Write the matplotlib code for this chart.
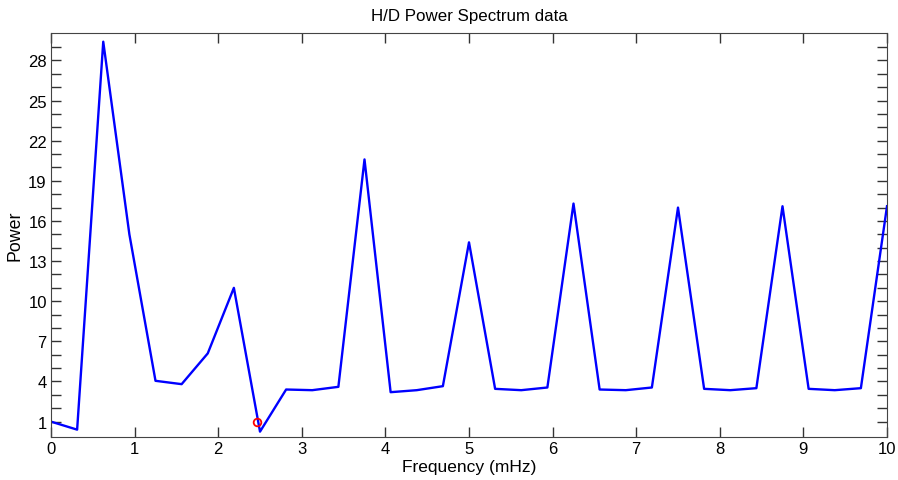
import matplotlib

matplotlib.use("Agg")
import matplotlib.pyplot as plt

# spectrum samples (frequency in mHz, power)
freq = [0.0, 0.3125, 0.625, 0.9375, 1.25, 1.5625, 1.875, 2.1875, 2.5, 2.8125,
        3.125, 3.4375, 3.75, 4.0625, 4.375, 4.6875, 5.0, 5.3125, 5.625, 5.9375,
        6.25, 6.5625, 6.875, 7.1875, 7.5, 7.8125, 8.125, 8.4375, 8.75, 9.0625,
        9.375, 9.6875, 10.0]
power = [1.0, 0.4, 29.4, 15.0, 4.05, 3.8, 6.1, 11.0, 0.25, 3.4,
         3.35, 3.6, 20.6, 3.2, 3.35, 3.65, 14.4, 3.45, 3.35, 3.55,
         17.3, 3.4, 3.35, 3.55, 17.0, 3.45, 3.35, 3.5, 17.1, 3.45,
         3.35, 3.5, 17.1]
marker_freq = [2.46]
marker_power = [0.95]

y_ticks = list(range(1, 30))
y_labels = [str(v) if v % 3 == 1 else "" for v in y_ticks]

plt.rcParams["font.family"] = ["Liberation Sans", "DejaVu Sans"]

fig = plt.figure(figsize=(8.98, 4.81), dpi=100)
ax = fig.add_axes([51 / 898, 1 - 438 / 481, (887 - 51) / 898, (438 - 34) / 481])

ax.plot(freq, power, color="#0000ff", linewidth=1.7)
ax.plot(marker_freq, marker_power, "o", markerfacecolor="none",
        markeredgecolor="#ff0000", markersize=5.5, markeredgewidth=1.3)

ax.set_xlim(0, 10)
ax.set_ylim(-0.15, 30.05)
ax.set_xticks(range(0, 11))
ax.set_yticks(y_ticks)
ax.set_yticklabels(y_labels)
ax.tick_params(direction="in", top=True, right=True, length=7, width=1,
               labelsize=12, labelcolor="black", color="#333333", pad=3)
for spine in ax.spines.values():
    spine.set_color("#444444")

ax.set_xlabel("Frequency (mHz)", fontsize=12.5, labelpad=2)
ax.set_ylabel("Power", fontsize=12.8, labelpad=3)
ax.set_title("H/D Power Spectrum data", fontsize=12.2, pad=9)

fig.savefig("out.png", dpi=100)
